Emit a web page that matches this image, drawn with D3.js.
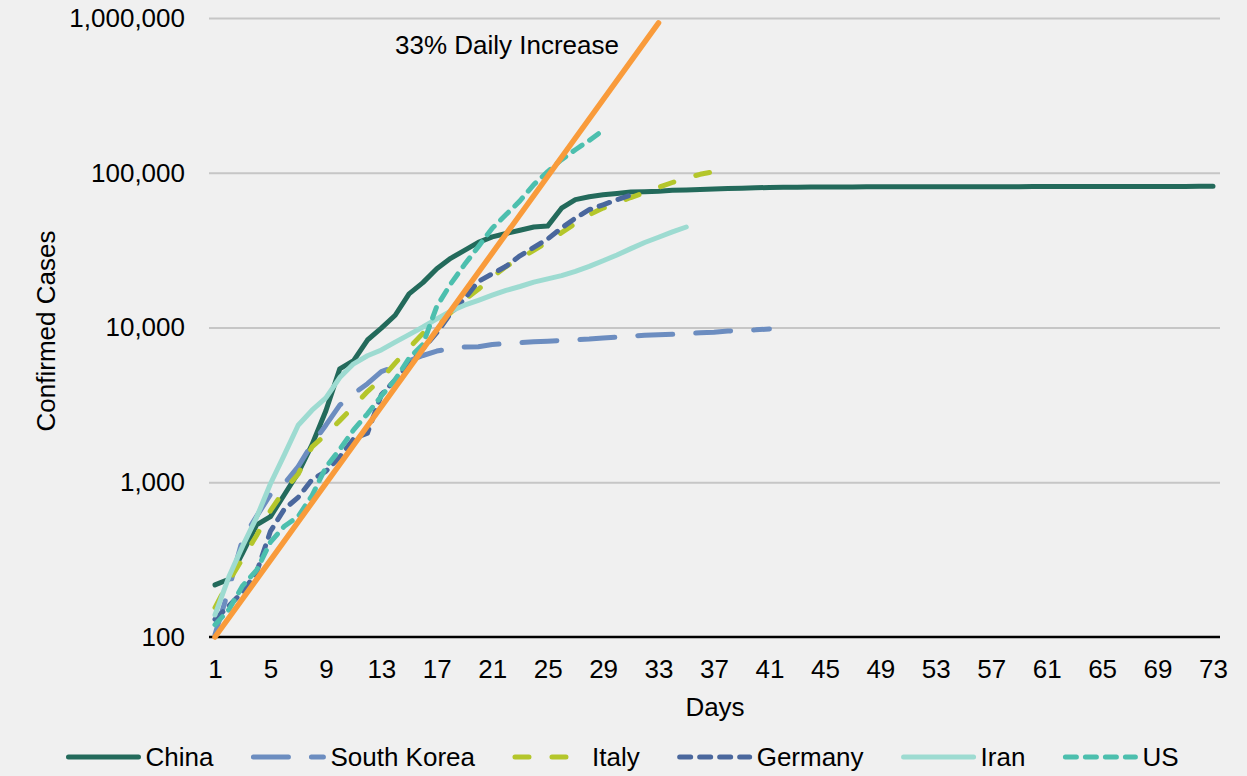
<!DOCTYPE html>
<html>
<head>
<meta charset="utf-8">
<script src="https://cdn.jsdelivr.net/npm/d3@7"></script>
<style>
  body { margin: 0; background: #f0f0f0; }
  svg { display: block; font-family: "Liberation Sans", Arial, sans-serif; }
</style>
</head>
<body>
<svg id="chart" width="1247" height="776"></svg>
<script>
// confirmed cases by day since case 100
const china = [217, 236, 350, 530, 600, 830, 1150, 1750, 2900, 5400,
  6100, 8300, 9900, 12000, 16500, 19500, 24000, 28000, 31500, 35500,
  38500, 40500, 42500, 44600, 45200, 59000, 67000, 70000, 72000, 73500,
  75000, 75500, 76000, 77000, 77500, 78000, 78500, 79000, 79500, 80000,
  80300, 80500, 80700, 80900, 81000, 81000, 81000, 81100, 81100, 81100,
  81100, 81200, 81200, 81200, 81200, 81300, 81300, 81300, 81300, 81400,
  81400, 81400, 81400, 81500, 81500, 81500, 81500, 81600, 81600, 81600,
  81600, 81700, 81700];
const southKorea = [104, 204, 433, 602, 833, 977, 1261, 1766, 2337, 3150,
  3736, 4335, 5186, 5621, 6088, 6593, 7041, 7314, 7478, 7513,
  7755, 7869, 7979, 8086, 8162, 8236, 8320, 8413, 8565, 8652,
  8799, 8897, 8961, 9037, 9137, 9241, 9332, 9478, 9583, 9661, 9786];
const italy = [155, 229, 322, 453, 655, 888, 1128, 1694, 2036, 2502,
  3089, 3858, 4636, 5883, 7375, 9172, 10149, 12462, 15113, 17660,
  21157, 24747, 27980, 31506, 35713, 41035, 47021, 53578, 59138, 63927,
  69176, 74386, 80589, 86498, 92472, 97689, 101739, 105792];
const germany = [130, 159, 196, 262, 482, 670, 799, 1040, 1176, 1457,
  1908, 2078, 3675, 4585, 5795, 7272, 9257, 12327, 15320, 19848,
  22213, 24873, 29056, 32986, 37323, 43938, 50871, 57695, 62095, 66885, 71808];
const iran = [139, 245, 388, 593, 978, 1501, 2336, 2922, 3513, 4747,
  5823, 6566, 7161, 8042, 9000, 10075, 11364, 12729, 13938, 14991,
  16169, 17361, 18407, 19644, 20610, 21638, 23049, 24811, 27017, 29406,
  32332, 35408, 38309, 41495, 44605];
const us = [120, 150, 215, 270, 410, 520, 600, 820, 1250, 1630,
  2180, 2770, 3610, 4600, 6340, 7780, 13680, 19100, 25500, 33300,
  43800, 53700, 65800, 83800, 101700, 121500, 140900, 161800, 188200];

// reference line: 33% daily growth from 100 cases
const growthDays = [1, 33];
const growthCases = [100, 930000];

const xTicks = [1, 5, 9, 13, 17, 21, 25, 29, 33, 37, 41, 45, 49, 53, 57, 61, 65, 69, 73];
const yTicks = [100, 1000, 10000, 100000, 1000000];

const series = [
  { name: "China", values: china, color: "#236a5b", dash: null },
  { name: "South Korea", values: southKorea, color: "#6c8dc0", dash: "35 23" },
  { name: "Italy", values: italy, color: "#b4c62b", dash: "14 23" },
  { name: "Germany", values: germany, color: "#4a679d", dash: "11 9" },
  { name: "Iran", values: iran, color: "#9ddbd1", dash: null },
  { name: "US", values: us, color: "#4cbfae", dash: "11 9" }
];

const svg = d3.select("#chart");
const left = 209, right = 1220;

const x = d3.scaleLinear().domain([1, 73]).range([215, 1213]);
const y = d3.scaleLog().domain([100, 1000000]).range([637, 18]);

// gridlines
svg.append("g")
  .attr("transform", "translate(" + left + ",0)")
  .call(d3.axisLeft(y).tickValues(yTicks.slice(1)).tickSize(-(right - left)).tickFormat(""))
  .call(g => g.select(".domain").remove())
  .call(g => g.selectAll("line").attr("stroke", "#c6c6c6").attr("stroke-width", 2));

// y labels
svg.append("g")
  .attr("transform", "translate(" + left + ",0)")
  .call(d3.axisLeft(y).tickValues(yTicks).tickSize(0).tickPadding(24).tickFormat(d3.format(",")))
  .call(g => g.select(".domain").remove())
  .call(g => g.selectAll("text").attr("font-size", 26).attr("font-family", null).attr("fill", "#000"));

// x axis
svg.append("g")
  .attr("transform", "translate(0,637)")
  .call(d3.axisBottom(x).tickValues(xTicks).tickSize(0).tickPadding(23))
  .call(g => g.select(".domain").remove())
  .call(g => g.selectAll("text").attr("font-size", 26).attr("font-family", null).attr("fill", "#000"));

svg.append("line")
  .attr("x1", left).attr("x2", right)
  .attr("y1", 637).attr("y2", 637)
  .attr("stroke", "#000").attr("stroke-width", 2.5);

svg.append("text")
  .attr("x", 715).attr("y", 716)
  .attr("text-anchor", "middle")
  .attr("font-size", 26)
  .text("Days");

svg.append("text")
  .attr("transform", "translate(55,331) rotate(-90)")
  .attr("text-anchor", "middle")
  .attr("font-size", 26)
  .text("Confirmed Cases");

const line = d3.line()
  .x((d, i) => x(i + 1))
  .y(d => y(d));

series.forEach(s => {
  svg.append("path")
    .datum(s.values)
    .attr("d", line)
    .attr("fill", "none")
    .attr("stroke", s.color)
    .attr("stroke-width", 5)
    .attr("stroke-linecap", "round")
    .attr("stroke-linejoin", "round")
    .attr("stroke-dasharray", s.dash);
});

// 33% daily increase line
svg.append("path")
  .datum(d3.zip(growthDays, growthCases))
  .attr("d", d3.line().x(d => x(d[0])).y(d => y(d[1])))
  .attr("fill", "none")
  .attr("stroke", "#f99b3b")
  .attr("stroke-width", 5.5)
  .attr("stroke-linecap", "round");

svg.append("text")
  .attr("x", 395).attr("y", 54)
  .attr("font-size", 26)
  .text("33% Daily Increase");

// legend, centered below the axis title
const legend = svg.append("g");
const items = legend.selectAll("g").data(series).join("g");
items.append("line")
  .attr("x1", 0).attr("x2", 70)
  .attr("y1", 757).attr("y2", 757)
  .attr("stroke", d => d.color)
  .attr("stroke-width", 5)
  .attr("stroke-linecap", "round")
  .attr("stroke-dasharray", d => d.dash);
items.append("text")
  .attr("x", 77).attr("y", 766)
  .attr("font-size", 26)
  .text(d => d.name);

let pos = 0;
items.each(function() {
  const w = 77 + this.querySelector("text").getComputedTextLength();
  d3.select(this).attr("transform", "translate(" + pos + ",0)");
  pos += w + 40;
});
const total = pos - 40;
legend.attr("transform", "translate(" + (623.5 - total / 2) + ",0)");
</script>
</body>
</html>
